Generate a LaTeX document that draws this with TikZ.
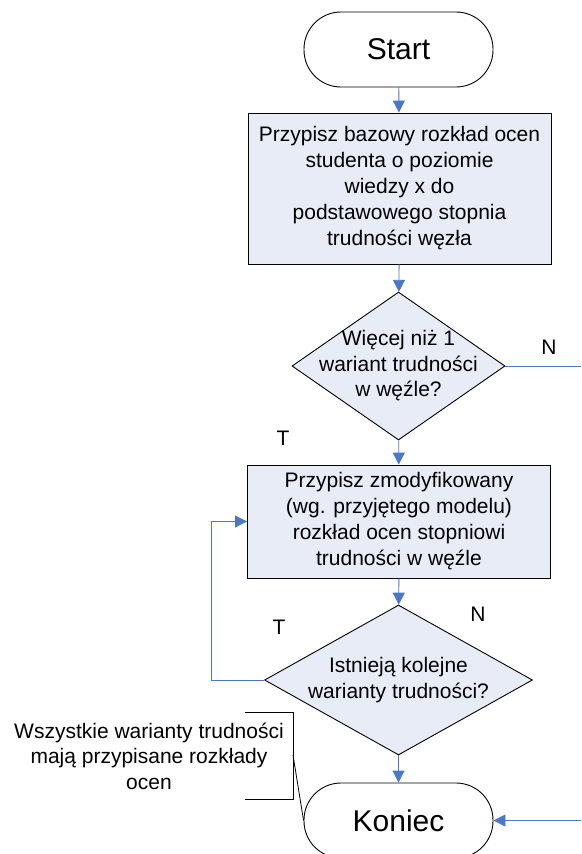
\documentclass[tikz,border=0pt]{standalone}
\usepackage{fontspec}
\setmainfont{Liberation Sans}
\usetikzlibrary{shapes.geometric,arrows.meta}
\definecolor{boxfill}{RGB}{232,236,247}
\definecolor{flowblue}{RGB}{74,120,198}

\begin{document}
\begin{tikzpicture}[x=1pt,y=-1pt,line width=0.9pt,
  terminal/.style={draw,rectangle,rounded corners=37pt,minimum width=189pt,minimum height=75pt,font=\fontsize{30}{34}\selectfont},
  process/.style={draw,fill=boxfill,minimum width=303pt,align=center,font=\fontsize{21}{26}\selectfont},
  decision/.style={draw,diamond,fill=boxfill,inner sep=0pt},
  qtext/.style={align=center,inner sep=0pt,font=\fontsize{21}{25.5}\selectfont},
  lbl/.style={font=\fontsize{21}{25}\selectfont},
  flow/.style={flowblue,-{Triangle[length=12pt,width=12pt]}},
  flowline/.style={flowblue}]
\useasboundingbox (0,0) rectangle (581,854);
% blocks
\node[terminal] (start) at (398.5,49.5) {Start};
\node[process,minimum height=151pt] (base) at (399.5,188.5)
  {Przypisz bazowy rozkład ocen\\studenta o poziomie\\wiedzy x do\\podstawowego stopnia\\trudności węzła};
\node[decision,minimum width=213pt,minimum height=148pt] (many) at (398.5,366) {};
\node[qtext] (manyq) at (many) {Więcej niż 1\\wariant trudności\\w węźle?};
\node[process,minimum height=113pt] (modif) at (399,521.5)
  {Przypisz zmodyfikowany\\(wg. przyjętego modelu)\\rozkład ocen stopniowi\\trudności w węźle};
\node[decision,minimum width=268pt,minimum height=150pt] (more) at (398.5,680) {};
\node[qtext] (moreq) at (more) {Istnieją kolejne\\warianty trudności?};
\node[terminal] (end) at (398.5,820.5) {Koniec};
% labels
\node[lbl] (n1) at (549,347) {N};
\node[lbl] (t1) at (283,438) {T};
\node[lbl] (t2) at (279,627) {T};
\node[lbl] (n2) at (478,614) {N};
\node[align=center,font=\fontsize{21}{25.5}\selectfont] (note) at (149,756)
  {Wszystkie warianty trudności\\mają przypisane rozkłady\\ocen};
% connectors
\draw[flow] (start) -- (base);
\draw[flow] (base) -- (many);
\draw[flow] (many) -- (modif);
\draw[flow] (modif) -- (more);
\draw[flow] (more) -- (end);
\coordinate (nout) at (581,366);
\coordinate (nin) at (581,820.5);
\draw[flowline] (many.east) -- (nout);
\draw[flow] (nin) -- (end.east);
\draw[flow] (more.west) -- ++(-53,0) |- (modif.west);
% bracket of the note
\coordinate (brk) at (293,755);
\draw[line width=0.8pt] (245,712) -| (293,799) -- (245,799);
\draw[line width=0.8pt] (brk) -- (end.west);
\end{tikzpicture}
\end{document}
